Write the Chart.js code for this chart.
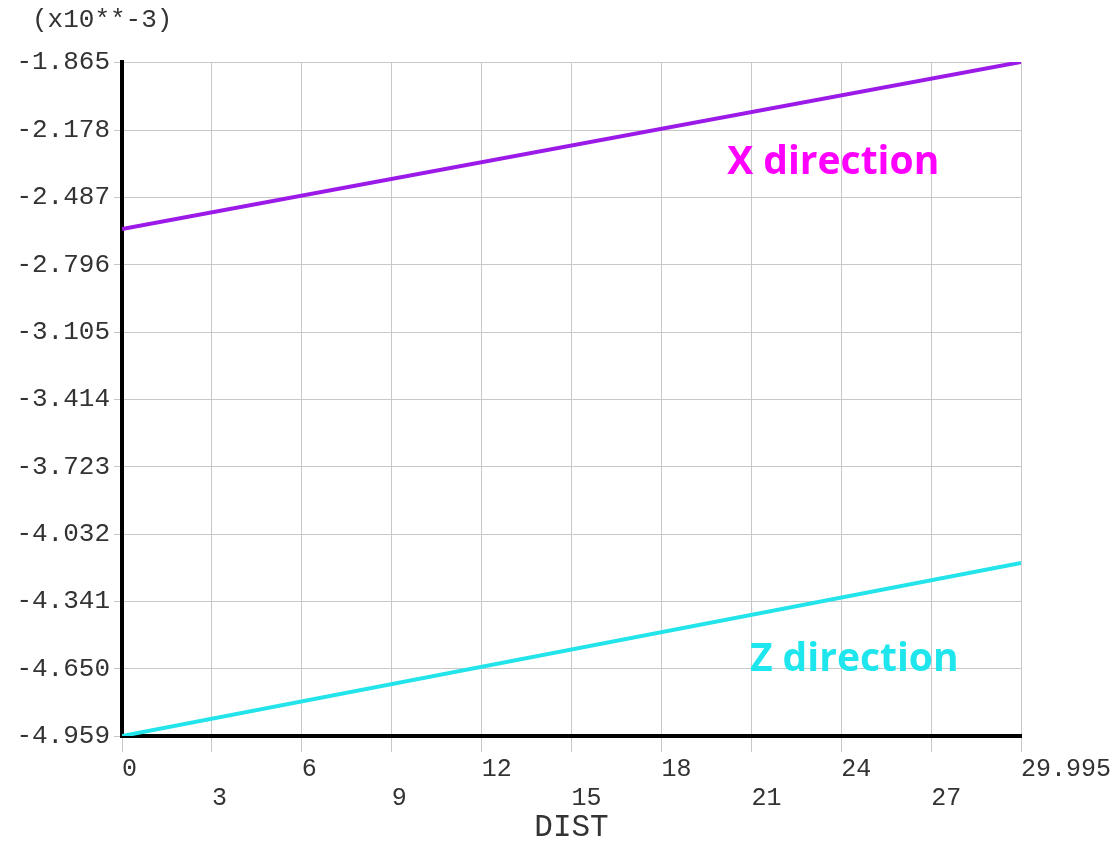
<!DOCTYPE html>
<html>
<head>
<meta charset="utf-8">
<script src="https://cdn.jsdelivr.net/npm/chart.js@4/dist/chart.umd.min.js"></script>
<style>
  html, body { margin: 0; padding: 0; background: #fff; }
  #wrap { width: 1118px; height: 842px; }
</style>
</head>
<body>
<div id="wrap"><canvas id="distChart"></canvas></div>
<script>
// data
const dist = [0, 29.995];
const xDirection = [-2.632, -1.865];
const zDirection = [-4.959, -4.165];

const xTicks = [0, 3, 6, 9, 12, 15, 18, 21, 24, 27, 29.995];
const xTickLabels = ['0', '3', '6', '9', '12', '15', '18', '21', '24', '27', '29.995'];
const yTickLabels = ['-1.865', '-2.178', '-2.487', '-2.796', '-3.105', '-3.414',
                     '-3.723', '-4.032', '-4.341', '-4.650', '-4.959'];

const monoFont = "'Liberation Mono', 'DejaVu Sans Mono', monospace";

// text labels drawn on top (header + series names)
const textPlugin = {
  id: 'texts',
  afterDraw(chart) {
    const ctx = chart.ctx;
    const xs = chart.scales.x, ys = chart.scales.y;
    ctx.save();
    ctx.fillStyle = '#333';
    ctx.font = '26px ' + monoFont;
    ctx.textBaseline = 'middle';
    ctx.textAlign = 'left';
    ctx.fillText('(x10**-3)', 32, 20);

    ctx.font = "bold 39px 'Open Sans', Lato, sans-serif";
    ctx.fillStyle = '#ff00ff';
    ctx.fillText('X direction', xs.getPixelForValue(20.19), ys.getPixelForValue(-2.329));
    ctx.fillStyle = '#1ee6ec';
    ctx.fillText('Z direction', xs.getPixelForValue(20.95), ys.getPixelForValue(-4.610));
    ctx.restore();
  }
};

new Chart(document.getElementById('distChart'), {
  type: 'line',
  data: {
    datasets: [
      {
        label: 'X direction',
        data: dist.map((d, i) => ({ x: d, y: xDirection[i] })),
        borderColor: '#9b1ae8',
        borderWidth: 4,
        pointRadius: 0,
        fill: false
      },
      {
        label: 'Z direction',
        data: dist.map((d, i) => ({ x: d, y: zDirection[i] })),
        borderColor: '#22e4ea',
        borderWidth: 4,
        pointRadius: 0,
        fill: false
      }
    ]
  },
  options: {
    responsive: true,
    maintainAspectRatio: false,
    animation: false,
    layout: { padding: { top: 62, right: 97, left: 0, bottom: 0 } },
    plugins: {
      legend: { display: false },
      tooltip: { enabled: false }
    },
    scales: {
      x: {
        type: 'linear',
        min: 0,
        max: 29.995,
        border: { display: true, color: '#000', width: 4 },
        grid: { color: '#c8c8c8', lineWidth: 1, tickLength: 16, tickColor: '#c8c8c8' },
        afterBuildTicks: axis => { axis.ticks = xTicks.map(v => ({ value: v })); },
        afterFit: axis => { axis.height = 106; axis.paddingLeft = 0; axis.paddingRight = 0; },
        ticks: {
          autoSkip: false,
          maxRotation: 0,
          align: 'start',
          padding: 3,
          color: '#333',
          font: { family: monoFont, size: 25, lineHeight: 1.16 },
          callback: (v, i) => (i % 2 === 1 && i < xTicks.length - 1) ? ['', xTickLabels[i]] : xTickLabels[i]
        },
        title: {
          display: true,
          text: 'DIST',
          color: '#333',
          font: { family: monoFont, size: 31, lineHeight: 0.9 },
          padding: { top: 0, bottom: 0 }
        }
      },
      y: {
        min: -4.959,
        max: -1.865,
        border: { display: true, color: '#000', width: 4 },
        grid: { color: '#c8c8c8', lineWidth: 1, tickLength: 8, tickColor: '#c8c8c8' },
        afterBuildTicks: axis => { axis.ticks = yTickLabels.map(s => ({ value: parseFloat(s) })); },
        afterFit: axis => { axis.width = 122; axis.paddingTop = 0; axis.paddingBottom = 0; },
        ticks: {
          padding: 4,
          color: '#333',
          font: { family: monoFont, size: 26 },
          callback: (v, i) => yTickLabels[i]
        }
      }
    }
  },
  plugins: [textPlugin]
});
</script>
</body>
</html>
